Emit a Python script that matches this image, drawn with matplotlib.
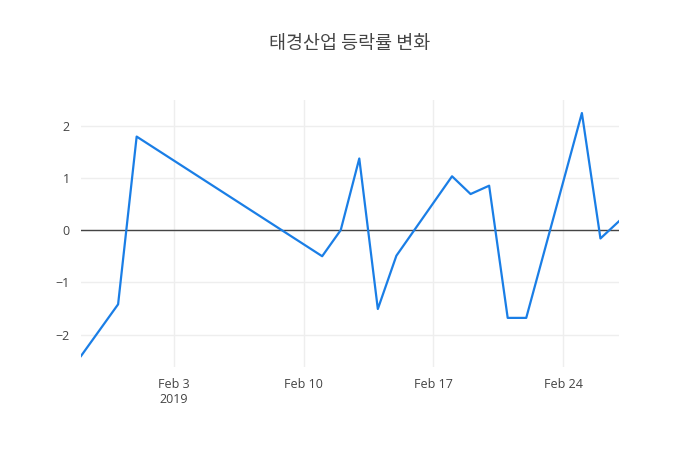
import matplotlib
matplotlib.use("Agg")
import matplotlib.pyplot as plt
import pandas as pd

# data
dates = pd.to_datetime([
    "2019-01-29", "2019-01-31", "2019-02-01", "2019-02-11", "2019-02-12",
    "2019-02-13", "2019-02-14", "2019-02-15", "2019-02-18", "2019-02-19",
    "2019-02-20", "2019-02-21", "2019-02-22", "2019-02-25", "2019-02-26",
    "2019-02-27",
])
rates = [-2.41, -1.42, 1.79, -0.50, 0.0, 1.37, -1.51, -0.49, 1.03, 0.69,
         0.85, -1.68, -1.68, 2.24, -0.16, 0.17]

tick_dates = pd.to_datetime(["2019-02-03", "2019-02-10", "2019-02-17", "2019-02-24"])
tick_labels = ["Feb 3\n2019", "Feb 10", "Feb 17", "Feb 24"]
y_ticks = [-2, -1, 0, 1, 2]
y_labels = ["\u22122", "\u22121", "0", "1", "2"]

plt.rcParams['font.family'] = ['Open Sans', 'Noto Sans CJK KR', 'DejaVu Sans']

fig = plt.figure(figsize=(7, 4.5), dpi=100)
ax = fig.add_axes([81/700, 1 - 367/450, 538/700, 267/450])

ax.plot(dates, rates, color='#1a7ee6', linewidth=1.6, zorder=3)
ax.axhline(0, color='#444444', linewidth=1, zorder=2)

ax.set_xlim(dates[0], dates[-1])
ax.set_ylim(-2.62, 2.49)

ax.set_xticks(tick_dates)
ax.set_xticklabels(tick_labels)
ax.set_yticks(y_ticks)
ax.set_yticklabels(y_labels)

ax.grid(True, color='#eeeeee', linewidth=1, zorder=0)
ax.tick_params(length=0, labelsize=9, labelcolor='#444444', pad=8)
for s in ax.spines.values():
    s.set_visible(False)

# 제목
fig.text(0.5, 1 - 44/450, "태경산업 등락률 변화", ha='center', va='center',
         fontsize=13.3, fontweight='medium', color='#444444',
         family=['Noto Sans CJK KR', 'DejaVu Sans'])

fig.savefig("out.png", dpi=100)
